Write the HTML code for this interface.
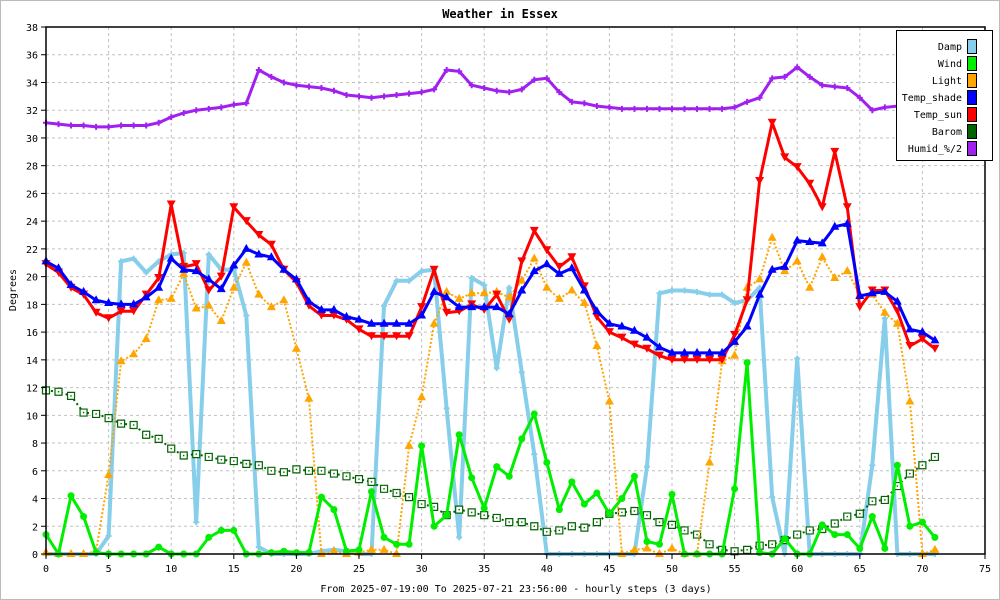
<!DOCTYPE html>
<html><head><meta charset="utf-8"><style>
html,body{margin:0;padding:0;background:#fff}
svg{display:block;font-family:"DejaVu Sans Mono","Liberation Mono",monospace}
</style></head><body>
<svg id="chart" width="1000" height="600" viewBox="0 0 1000 600" xmlns="http://www.w3.org/2000/svg">
<rect x="0.5" y="0.5" width="999" height="599" fill="#fff" stroke="#bbb"/>
<text x="500" y="18" text-anchor="middle" font-size="12" font-weight="bold">Weather in Essex</text>
<g id="grid"></g>
<g id="series"></g>
<g id="axes"></g>
<text x="516" y="592" text-anchor="middle" font-size="10">From 2025-07-19:00 To 2025-07-21 23:56:00 - hourly steps (3 days)</text>
<text transform="translate(16,290) rotate(-90)" text-anchor="middle" font-size="10">Degrees</text>
<g id="legend"></g>
</svg>
<script>
const xTicks=[0,5,10,15,20,25,30,35,40,45,50,55,60,65,70,75];
const yTicks=[0,2,4,6,8,10,12,14,16,18,20,22,24,26,28,30,32,34,36,38];
const seriesNames=["Damp","Wind","Light","Temp_shade","Temp_sun","Barom","Humid_%/2"];
const damp=[0,0,0,0,0,1.3,21.1,21.3,20.3,21.1,21.6,21.7,2.3,21.6,20.5,20.5,17.2,0.5,0,0,0,0,0.2,0.3,0.2,0,0,17.9,19.7,19.7,20.4,20.5,10.5,1.2,19.9,19.4,13.4,19.2,13.1,7.2,0,0,0,0,0,0,0,0,6.3,18.8,19.0,19.0,18.9,18.7,18.7,18.1,18.3,19.2,4.1,0,14.1,0,0,0,0,0,6.4,17.0,0,0,0,0];
const wind=[1.4,0,4.2,2.7,0.1,0,0,0,0,0.5,0,0,0,1.2,1.7,1.7,0,0,0.1,0.2,0.1,0.1,4.1,3.2,0.2,0.3,4.5,1.2,0.7,0.7,7.8,2.0,2.8,8.6,5.5,3.3,6.3,5.6,8.3,10.1,6.6,3.2,5.2,3.6,4.4,2.9,4.0,5.6,0.9,0.7,4.3,0,0,0,0,4.7,13.8,0.1,0,1.1,0,0,2.1,1.4,1.4,0.4,2.7,0.4,6.4,2.0,2.3,1.2];
const light=[0.1,0,0,0,0.2,5.7,13.9,14.4,15.5,18.3,18.4,20.2,17.7,17.9,16.8,19.2,21.0,18.7,17.8,18.3,14.8,11.2,0,0.2,0,0.1,0.3,0.3,0,7.8,11.3,16.6,18.9,18.4,18.8,18.8,18.9,18.5,19.7,21.3,19.2,18.4,19.0,18.1,15.0,11.0,0,0.3,0.4,0,0.4,0,0,6.6,13.9,14.3,19.2,19.8,22.8,20.4,21.1,19.2,21.4,19.9,20.4,18.7,18.7,17.4,16.6,11.0,0,0.3];
const tempShade=[21.1,20.6,19.4,18.9,18.3,18.1,18.0,18.0,18.5,19.2,21.3,20.5,20.4,19.8,19.1,20.8,22.0,21.6,21.4,20.5,19.8,18.2,17.6,17.6,17.1,16.9,16.6,16.6,16.6,16.6,17.2,18.9,18.5,17.8,17.8,17.8,17.8,17.3,19.0,20.4,20.9,20.2,20.6,19.0,17.5,16.6,16.4,16.1,15.6,14.9,14.5,14.5,14.5,14.5,14.5,15.3,16.4,18.7,20.5,20.7,22.6,22.5,22.4,23.6,23.8,18.6,18.8,18.9,18.2,16.2,16.0,15.4];
const tempSun=[20.9,20.3,19.2,18.7,17.4,17.0,17.5,17.5,18.7,19.9,25.2,20.7,20.9,19.0,20.0,25.0,24.0,23.0,22.3,20.5,19.6,17.9,17.2,17.2,16.9,16.2,15.7,15.7,15.7,15.7,17.8,20.5,17.4,17.5,18.0,17.6,18.7,16.9,21.1,23.3,21.9,20.7,21.4,19.3,17.1,16.0,15.6,15.1,14.8,14.3,14.0,14.0,14.0,14.0,14.0,15.8,18.3,26.9,31.1,28.6,27.9,26.7,25.0,29.0,25.0,17.8,19.0,19.0,17.5,15.0,15.5,14.8];
const barom=[11.8,11.7,11.4,10.2,10.1,9.8,9.4,9.3,8.6,8.3,7.6,7.1,7.2,7.0,6.8,6.7,6.5,6.4,6.0,5.9,6.1,6.0,6.0,5.8,5.6,5.4,5.2,4.7,4.4,4.1,3.6,3.4,2.8,3.2,3.0,2.8,2.6,2.3,2.3,2.0,1.6,1.7,2.0,1.9,2.3,2.9,3.0,3.1,2.8,2.3,2.1,1.7,1.4,0.7,0.3,0.2,0.3,0.6,0.7,1.0,1.4,1.7,1.8,2.2,2.7,2.9,3.8,3.9,4.9,5.8,6.4,7.0];
const humid=[31.1,31.0,30.9,30.9,30.8,30.8,30.9,30.9,30.9,31.1,31.5,31.8,32.0,32.1,32.2,32.4,32.5,34.9,34.4,34.0,33.8,33.7,33.6,33.4,33.1,33.0,32.9,33.0,33.1,33.2,33.3,33.5,34.9,34.8,33.8,33.6,33.4,33.3,33.5,34.2,34.3,33.3,32.6,32.5,32.3,32.2,32.1,32.1,32.1,32.1,32.1,32.1,32.1,32.1,32.1,32.2,32.6,32.9,34.3,34.4,35.1,34.4,33.8,33.7,33.6,32.9,32.0,32.2,32.3,32.4,32.4,32.4];

const L=46,R=985,T=27,B=554;
const xs=i=>L+(R-L)*i/75;
const ys=v=>B-(B-T)*v/38;
const NS="http://www.w3.org/2000/svg";
function mk(tag,attrs,parent){const e=document.createElementNS(NS,tag);for(const k in attrs)e.setAttribute(k,attrs[k]);parent.appendChild(e);return e;}
const grid=document.getElementById('grid'),axes=document.getElementById('axes'),ser=document.getElementById('series'),leg=document.getElementById('legend');
xTicks.forEach(t=>{
  const x=xs(t);
  if(t>0&&t<75){const g=mk('line',{x1:x,x2:x,y1:T,y2:B,stroke:'#c0c0c0','stroke-dasharray':'3,3'},grid);
  
  }
  const tk=mk('line',{x1:x,x2:x,y1:B,y2:B+5,stroke:'#000'},axes);
  
  
  const lb=mk('text',{x:x,y:B+18,'text-anchor':'middle','font-size':'10'},axes);
  lb.textContent=t;
  
  
});
yTicks.forEach(t=>{
  const y=ys(t);
  if(t>0&&t<38){const g=mk('line',{x1:L,x2:R,y1:y,y2:y,stroke:'#c0c0c0','stroke-dasharray':'3,3'},grid);
  
  }
  const tk=mk('line',{x1:L-5,x2:L,y1:y,y2:y,stroke:'#000'},axes);
  
  
  const lb=mk('text',{x:L-8,y:y+4,'text-anchor':'end','font-size':'10'},axes);
  lb.textContent=t;
  
  
});
const fr=mk('rect',{x:L,y:T,width:R-L,height:B-T,fill:'none',stroke:'#000','stroke-width':1.5},axes);



const cfg=[
 {d:humid,c:'#a020f0',w:3,dash:null,m:'cross',name:'humid-series'},
 {d:damp,c:'#87ceeb',w:4,dash:null,m:'cross',name:'damp-series'},
 {d:barom,c:'#006400',w:2,dash:'2,3',m:'osq',name:'barom-series'},
 {d:light,c:'#ffa500',w:2,dash:'2,2',m:'tri',name:'light-series'},
 {d:wind,c:'#00ee00',w:3,dash:null,m:'circ',name:'wind-series'},
 {d:tempSun,c:'#ff0000',w:3,dash:null,m:'tdown',name:'temp-sun-series'},
 {d:tempShade,c:'#0000ff',w:3,dash:null,m:'tri',name:'temp-shade-series'}
];
cfg.forEach(s=>{
  const g=mk('g',{},ser);
  
  
  const pts=s.d.map((v,i)=>xs(i).toFixed(1)+','+ys(v).toFixed(1)).join(' ');
  const a={points:pts,fill:'none',stroke:s.c,'stroke-width':s.w,'stroke-linejoin':'round'};
  if(s.dash)a['stroke-dasharray']=s.dash;
  const pl=mk('polyline',a,g);
  
  
  s.d.forEach((v,i)=>{
    const x=xs(i),y=ys(v);let e;
    if(s.m==='cross')e=mk('path',{d:`M${x-3},${y}h6M${x},${y-3}v6`,stroke:s.c,'stroke-width':2},g);
    else if(s.m==='osq'){
      e=mk('path',{d:`M${x-3.5},${y-3.5}h7v7h-7Z`,fill:'#fff',stroke:s.c,'stroke-width':1.2},g);
      mk('rect',{x:x-0.7,y:y-0.7,width:1.4,height:1.4,fill:s.c},g);
    }
    else if(s.m==='tri')e=mk('path',{d:`M${x},${y-5}L${x+4.5},${y+3}L${x-4.5},${y+3}Z`,fill:s.c},g);
    else if(s.m==='tdown')e=mk('path',{d:`M${x},${y+4}L${x+4.5},${y-4}L${x-4.5},${y-4}Z`,fill:s.c},g);
    else e=mk('circle',{cx:x,cy:y,r:3.5,fill:s.c},g);
    
    
  });
});
const legColors=['#87ceeb','#00ee00','#ffa500','#0000ff','#ff0000','#006400','#a020f0'];
const lb=mk('rect',{x:896.5,y:30.5,width:96,height:130,fill:'#fff',stroke:'#000'},leg);


seriesNames.forEach((n,i)=>{
  const y=46+i*17;
  const t=mk('text',{x:962,y:y+4,'text-anchor':'end','font-size':'10'},leg);
  t.textContent=n;
  
  
  const r=mk('rect',{x:967.5,y:y-6.5,width:9,height:14,fill:legColors[i],stroke:'#000'},leg);
  
  
});
</script>
</body></html>
